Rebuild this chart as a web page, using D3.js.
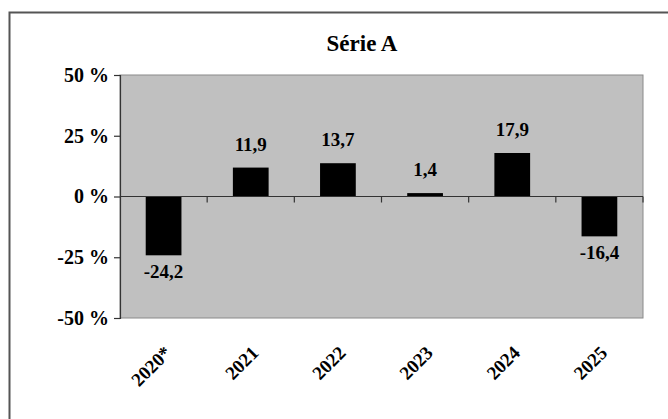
<!DOCTYPE html>
<html>
<head>
<meta charset="utf-8">
<script src="https://cdn.jsdelivr.net/npm/d3@7"></script>
<style>
  body { margin: 0; background: #fff; }
</style>
</head>
<body>
<div id="chart"></div>
<script>
  var categories = ["2020*", "2021", "2022", "2023", "2024", "2025"];
  var values = [-24.2, 11.9, 13.7, 1.4, 17.9, -16.4];
  var yTicks = [50, 25, 0, -25, -50];
  var title = "Série A";

  var width = 668;
  var height = 419;
  var plot = { left: 120, top: 75, right: 643, bottom: 318 };
  var serif = "'Liberation Serif', 'Times New Roman', serif";

  var svg = d3.select("#chart")
              .append("svg")
              .attr("width", width)
              .attr("height", height);

  // outer frame, runs off the right and bottom of the picture
  svg.append("rect")
     .attr("x", 9.5).attr("y", 12.5)
     .attr("width", 720).attr("height", 430)
     .attr("fill", "none")
     .attr("stroke", "#555")
     .attr("stroke-width", 2);

  var x = d3.scaleBand()
            .domain(categories)
            .range([plot.left, plot.right])
            .paddingInner(0.59)
            .paddingOuter(0.295);
  var xCat = d3.scaleBand().domain(categories).range([plot.left, plot.right]);
  var y = d3.scaleLinear().domain([-50, 50]).range([plot.bottom, plot.top]);

  svg.append("rect")
     .attr("x", plot.left).attr("y", plot.top)
     .attr("width", plot.right - plot.left)
     .attr("height", plot.bottom - plot.top)
     .attr("fill", "#c0c0c0")
     .attr("stroke", "#8a8a8a")
     .attr("stroke-width", 1);

  svg.selectAll(".bar")
     .data(values)
     .enter()
     .append("rect")
     .attr("class", "bar")
     .attr("x", function(d, i) { return x(categories[i]); })
     .attr("width", x.bandwidth())
     .attr("y", function(d) { return y(Math.max(0, d)); })
     .attr("height", function(d) { return Math.abs(y(d) - y(0)); })
     .attr("fill", "#000");

  // x axis on the zero line, ticks between categories
  var xAxisG = svg.append("g");
  xAxisG.append("line")
        .attr("x1", plot.left).attr("x2", plot.right)
        .attr("y1", y(0)).attr("y2", y(0))
        .attr("stroke", "#333").attr("stroke-width", 1.2);
  xAxisG.selectAll("line.tick")
        .data(categories)
        .enter()
        .append("line")
        .attr("class", "tick")
        .attr("x1", function(d) { return xCat(d) + xCat.bandwidth(); })
        .attr("x2", function(d) { return xCat(d) + xCat.bandwidth(); })
        .attr("y1", y(0)).attr("y2", y(0) + 6)
        .attr("stroke", "#333").attr("stroke-width", 1.2);

  // y axis
  var yAxis = d3.axisLeft(y)
                .tickValues(yTicks)
                .tickSize(6)
                .tickFormat(function(d) { return d + " %"; });
  var yAxisG = svg.append("g")
                  .attr("transform", "translate(" + plot.left + ",0)")
                  .call(yAxis);
  yAxisG.attr("font-family", null).attr("font-size", null);
  yAxisG.select(".domain").attr("stroke", "#333").attr("stroke-width", 1.2);
  yAxisG.selectAll(".tick line").attr("stroke", "#333").attr("stroke-width", 1.2);
  yAxisG.selectAll(".tick text")
        .attr("x", -11)
        .style("font-family", serif)
        .style("font-weight", "bold")
        .style("font-size", "20px")
        .attr("fill", "#000");

  // value labels
  svg.selectAll(".val")
     .data(values)
     .enter()
     .append("text")
     .attr("class", "val")
     .attr("x", function(d, i) { return x(categories[i]) + x.bandwidth() / 2; })
     .attr("y", function(d) { return d >= 0 ? y(d) - 17 : y(d) + 23; })
     .attr("text-anchor", "middle")
     .style("font-family", serif)
     .style("font-weight", "bold")
     .style("font-size", "19px")
     .text(function(d) { return String(d).replace(".", ","); });

  // category labels, rotated
  svg.selectAll(".cat")
     .data(categories)
     .enter()
     .append("text")
     .attr("class", "cat")
     .attr("text-anchor", "end")
     .attr("transform", function(d) {
       return "translate(" + (xCat(d) + xCat.bandwidth() / 2 + 9) + ",354) rotate(-45)";
     })
     .style("font-family", serif)
     .style("font-weight", "bold")
     .style("font-size", "19px")
     .text(function(d) { return d; });

  svg.append("text")
     .attr("x", 362)
     .attr("y", 51)
     .attr("text-anchor", "middle")
     .style("font-family", serif)
     .style("font-weight", "bold")
     .style("font-size", "23px")
     .text(title);
</script>
</body>
</html>
